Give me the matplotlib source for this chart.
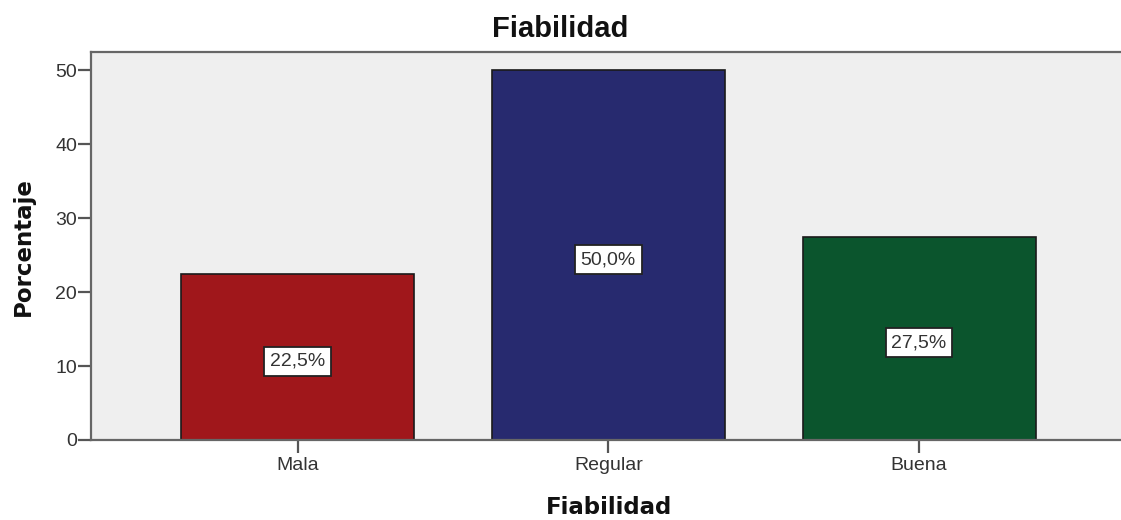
import matplotlib.pyplot as plt

categories = ['Mala', 'Regular', 'Buena']
percentages = [22.5, 50.0, 27.5]
bar_colors = ['#a0171b', '#272a6f', '#0b552d']

W, H = 1121, 520
fig = plt.figure(figsize=(W / 100, H / 100), dpi=100, facecolor='white')
ax = fig.add_axes([91 / W, 80 / H, (W - 91) / W, 388 / H])
ax.set_facecolor('#efefef')

x = list(range(len(categories)))
ax.bar(x, percentages, width=0.75, color=bar_colors, edgecolor='#1a1a1a',
       linewidth=1.2, zorder=2)

for xi, v in zip(x, percentages):
    lab = f'{v:.1f}%'.replace('.', ',')
    ax.text(xi, v / 2 - 0.6, lab, ha='center', va='center', fontsize=14,
            family='Liberation Sans', color='#333333', zorder=3,
            bbox=dict(boxstyle='square,pad=0.3', fc='white', ec='#222222', lw=1.3))

ax.set_xlim(-0.665, 2.65)
ax.set_ylim(0, 52.5)
ax.set_yticks([0, 10, 20, 30, 40, 50])
ax.set_xticks(x)
ax.set_xticklabels(categories)

for side in ['left', 'bottom', 'top']:
    ax.spines[side].set_color('#666666')
    ax.spines[side].set_linewidth(1.6)
ax.spines['right'].set_visible(False)

ax.tick_params(axis='both', direction='out', length=9.4, width=1.6, color='#555555',
               labelsize=14, labelcolor='#333333')
ax.tick_params(axis='y', pad=0.5)
ax.tick_params(axis='x', pad=3)
for t in ax.get_xticklabels() + ax.get_yticklabels():
    t.set_family('Liberation Sans')

fig.text(560 / W, 1 - 29 / H, 'Fiabilidad', ha='center', va='center',
         fontsize=21, fontweight='bold', family='Liberation Sans', color='#111111')
fig.text(609 / W, 1 - 508 / H, 'Fiabilidad', ha='center', va='center',
         fontsize=16.5, fontweight='bold', family='DejaVu Sans', color='#111111')
fig.text(23 / W, 1 - 247 / H, 'Porcentaje', ha='center', va='center', rotation=90,
         fontsize=16.5, fontweight='bold', family='DejaVu Sans', color='#111111')

fig.savefig('out.png', dpi=100, facecolor='white')
